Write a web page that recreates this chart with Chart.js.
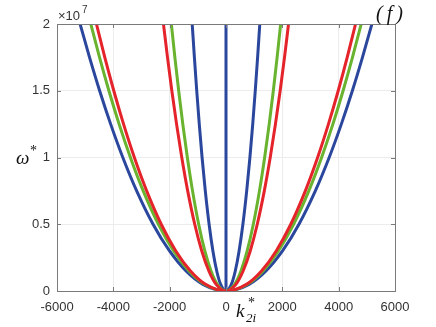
<!DOCTYPE html>
<html>
<head>
<meta charset="utf-8">
<script src="https://cdn.jsdelivr.net/npm/chart.js@4/dist/chart.umd.min.js"></script>
<style>
  html, body { margin: 0; padding: 0; background: #fff; }
  #wrap { width: 436px; height: 327px; }
</style>
</head>
<body>
<div id="wrap"><canvas id="c" width="436" height="327"></canvas></div>
<script>
// omega levels (x1e7), from top down to the vertex
const omegaLevels = [2, 1.75, 1.5, 1.25, 1, 0.75, 0.5, 0.3, 0.15, 0.05, 0];

// |k| at each omega level, per curve
const kBlueOuter  = [5180, 4845, 4486, 4095, 3663, 3172, 2590, 2006, 1419, 819, 0];
const kGreenOuter = [4800, 4490, 4157, 3795, 3394, 2940, 2400, 1859, 1315, 759, 0];
const kRedOuter   = [4600, 4303, 3984, 3637, 3253, 2817, 2300, 1782, 1260, 727, 0];
const kRedInner   = [2220, 2077, 1923, 1755, 1570, 1360, 1110, 860, 608, 351, 0];
const kGreenInner = [1940, 1815, 1680, 1534, 1372, 1188, 970, 751, 531, 307, 0];
const kBlueInner  = [1200, 1122, 1039, 949, 849, 735, 600, 465, 329, 190, 0];
const kBlueCenter = [0, 0];
const omegaCenter = [0, 2];

const xTicks = [-6000, -4000, -2000, 0, 2000, 4000, 6000];
const yTicks = [0, 0.5, 1, 1.5, 2];

const BLUE = "#2b479d";
const RED = "#e5232a";
const GREEN = "#69b32f";

// mirror one branch to make the full curve, left to right
function curve(ks) {
    const pts = [];
    for (let i = 0; i < ks.length; i++) {
        pts.push({ x: -ks[i], y: omegaLevels[i] * 1e7 });
    }
    for (let i = ks.length - 2; i >= 0; i--) {
        pts.push({ x: ks[i], y: omegaLevels[i] * 1e7 });
    }
    return pts;
}

function ds(ks, color) {
    return {
        data: curve(ks),
        borderColor: color,
        borderWidth: 3,
        pointRadius: 0,
        cubicInterpolationMode: "monotone",
        fill: false
    };
}

const extras = {
    id: "extras",
    afterDraw(chart) {
        const ctx = chart.ctx;
        const a = chart.chartArea;
        const xs = chart.scales.x;
        const ys = chart.scales.y;
        ctx.save();
        // box
        ctx.strokeStyle = "#7a7a7a";
        ctx.lineWidth = 1;
        ctx.strokeRect(a.left + 0.5, a.top + 0.5, a.right - a.left, a.bottom - a.top);
        // inward ticks
        ctx.beginPath();
        xTicks.forEach(function (v) {
            const px = Math.round(xs.getPixelForValue(v)) + 0.5;
            ctx.moveTo(px, a.bottom); ctx.lineTo(px, a.bottom - 4);
            ctx.moveTo(px, a.top); ctx.lineTo(px, a.top + 4);
        });
        yTicks.forEach(function (v) {
            const py = Math.round(ys.getPixelForValue(v * 1e7)) + 0.5;
            ctx.moveTo(a.left, py); ctx.lineTo(a.left + 4, py);
            ctx.moveTo(a.right, py); ctx.lineTo(a.right - 4, py);
        });
        ctx.stroke();
        // exponent
        ctx.fillStyle = "#333";
        ctx.font = "13px 'Liberation Sans', Arial, sans-serif";
        ctx.textBaseline = "alphabetic";
        ctx.fillText("\u00d710", 58, 20);
        ctx.font = "10px 'Liberation Sans', Arial, sans-serif";
        ctx.fillText("7", 82, 13);
        // panel label
        ctx.fillStyle = "#111";
        ctx.font = "italic 20px 'Liberation Serif', 'Times New Roman', serif";
        ctx.fillText("(\u2009f\u2009)", 376, 20);
        // y title
        ctx.font = "italic 19px 'Liberation Serif', 'Times New Roman', serif";
        ctx.fillText("\u03c9", 16, 164);
        ctx.font = "14px 'Liberation Serif', 'Times New Roman', serif";
        ctx.fillText("*", 30, 155);
        // x title
        ctx.font = "italic 19px 'Liberation Serif', 'Times New Roman', serif";
        ctx.fillText("k", 236, 317);
        ctx.font = "14px 'Liberation Serif', 'Times New Roman', serif";
        ctx.fillText("*", 248, 307);
        ctx.font = "italic 13px 'Liberation Serif', 'Times New Roman', serif";
        ctx.fillText("2i", 246, 322);
        ctx.restore();
    }
};

new Chart(document.getElementById("c"), {
    type: "line",
    data: {
        datasets: [
            ds(kRedOuter, RED),
            ds(kGreenOuter, GREEN),
            ds(kRedInner, RED),
            ds(kGreenInner, GREEN),
            ds(kBlueOuter, BLUE),
            ds(kBlueInner, BLUE),
            {
                data: kBlueCenter.map(function (k, i) { return { x: k, y: omegaCenter[i] * 1e7 }; }),
                borderColor: BLUE,
                borderWidth: 3,
                pointRadius: 0
            }
        ]
    },
    options: {
        responsive: false,
        animation: false,
        layout: { padding: { top: 24, right: 41, left: 0, bottom: 0 } },
        plugins: {
            legend: { display: false },
            tooltip: { enabled: false }
        },
        scales: {
            x: {
                type: "linear",
                min: -6000,
                max: 6000,
                afterBuildTicks(scale) { scale.ticks = xTicks.map(function (v) { return { value: v }; }); },
                afterFit(scale) { scale.height = 36; },
                grid: { color: "#ececec", drawTicks: false },
                border: { display: false },
                ticks: {
                    color: "#333",
                    padding: 9,
                    maxRotation: 0,
                    font: { family: "'Liberation Sans', Arial, sans-serif", size: 13 },
                    callback: function (v) { return String(v); }
                }
            },
            y: {
                type: "linear",
                min: 0,
                max: 2e7,
                afterBuildTicks(scale) { scale.ticks = yTicks.map(function (v) { return { value: v * 1e7 }; }); },
                afterFit(scale) { scale.width = 57; },
                grid: { color: "#ececec", drawTicks: false },
                border: { display: false },
                ticks: {
                    color: "#333",
                    padding: 7,
                    font: { family: "'Liberation Sans', Arial, sans-serif", size: 13 },
                    callback: function (v) { return String(v / 1e7); }
                }
            }
        }
    },
    plugins: [extras]
});
</script>
</body>
</html>
